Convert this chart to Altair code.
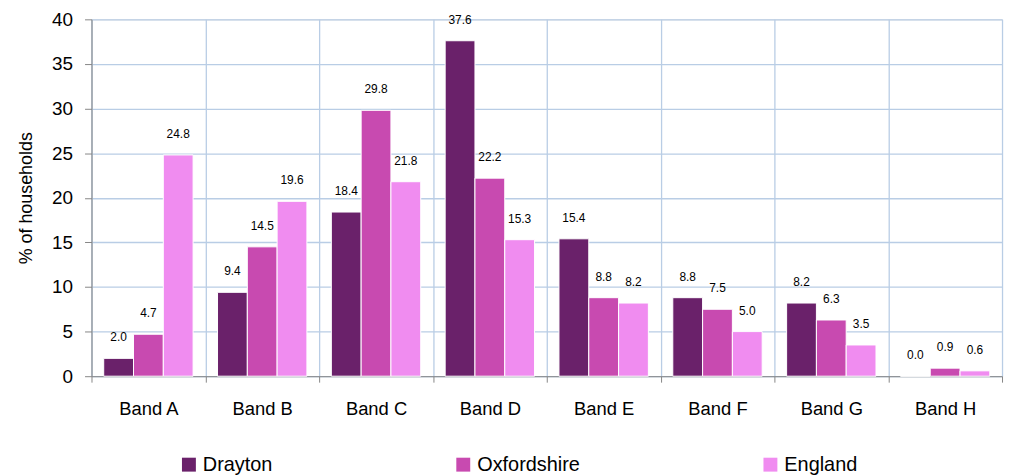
import altair as alt
import pandas as pd

bands = ["Band A", "Band B", "Band C", "Band D", "Band E", "Band F", "Band G", "Band H"]
series = ["Drayton", "Oxfordshire", "England"]
drayton = [2.0, 9.4, 18.4, 37.6, 15.4, 8.8, 8.2, 0.0]
oxfordshire = [4.7, 14.5, 29.8, 22.2, 8.8, 7.5, 6.3, 0.9]
england = [24.8, 19.6, 21.8, 15.3, 8.2, 5.0, 3.5, 0.6]
colors = ["#6A216A", "#C84AB0", "#F08CF0"]

rows = []
for name, vals in zip(series, [drayton, oxfordshire, england]):
    for b, v in zip(bands, vals):
        rows.append({"band": b, "series": name, "value": v, "label": f"{v:.1f}"})
df = pd.DataFrame(rows)

FONT = "Liberation Sans"

x = alt.X("band:N", sort=bands, title=None,
          scale=alt.Scale(paddingInner=0, paddingOuter=0),
          axis=alt.Axis(tickBand="extent", grid=True, gridColor="#B9CDE5", gridWidth=1.3,
                        domainColor="#868686", tickColor="#868686", tickSize=6,
                        labelAngle=0, labelFontSize=18.5, labelPadding=18, labelColor="#000",
                        labelFont=FONT))
xo = alt.XOffset("series:N", sort=series,
                 scale=alt.Scale(paddingInner=0, paddingOuter=0.41))
y = alt.Y("value:Q", title="% of households",
          scale=alt.Scale(domain=[0, 40], nice=False),
          axis=alt.Axis(values=list(range(0, 41, 5)), grid=True, gridColor="#B9CDE5",
                        gridWidth=1.3, domainColor="#868686", tickColor="#868686",
                        tickSize=7, labelFontSize=19, labelPadding=12, labelColor="#000",
                        labelFont=FONT, titleFont=FONT, titleFontSize=18,
                        titleFontWeight="normal", titleColor="#000", titlePadding=16))

base = alt.Chart(df)
bars = base.mark_bar(stroke="white", strokeWidth=1).encode(
    x=x, xOffset=xo, y=y,
    color=alt.Color("series:N", sort=series,
                    scale=alt.Scale(domain=series, range=colors),
                    legend=alt.Legend(title=None, orient="none", direction="horizontal",
                                      legendX=88, legendY=438, symbolType="square",
                                      symbolSize=196, symbolStrokeWidth=0,
                                      labelFontSize=20, labelFont=FONT, labelColor="#000",
                                      columnPadding=181, labelOffset=4, padding=0)),
)
text = base.mark_text(dy=-21, fontSize=12, font=FONT, color="#000", baseline="middle").encode(
    x=x, xOffset=xo, y=y, text="label:N"
)

chart = (bars + text).properties(
    width=916, height=359,
    autosize=alt.AutoSizeParams(type="none"),
    padding={"left": 84, "top": 10, "right": 5, "bottom": 98},
).configure_view(stroke=None).configure(font=FONT)

chart.save("out.html", embed_options={"renderer": "svg", "actions": False})
